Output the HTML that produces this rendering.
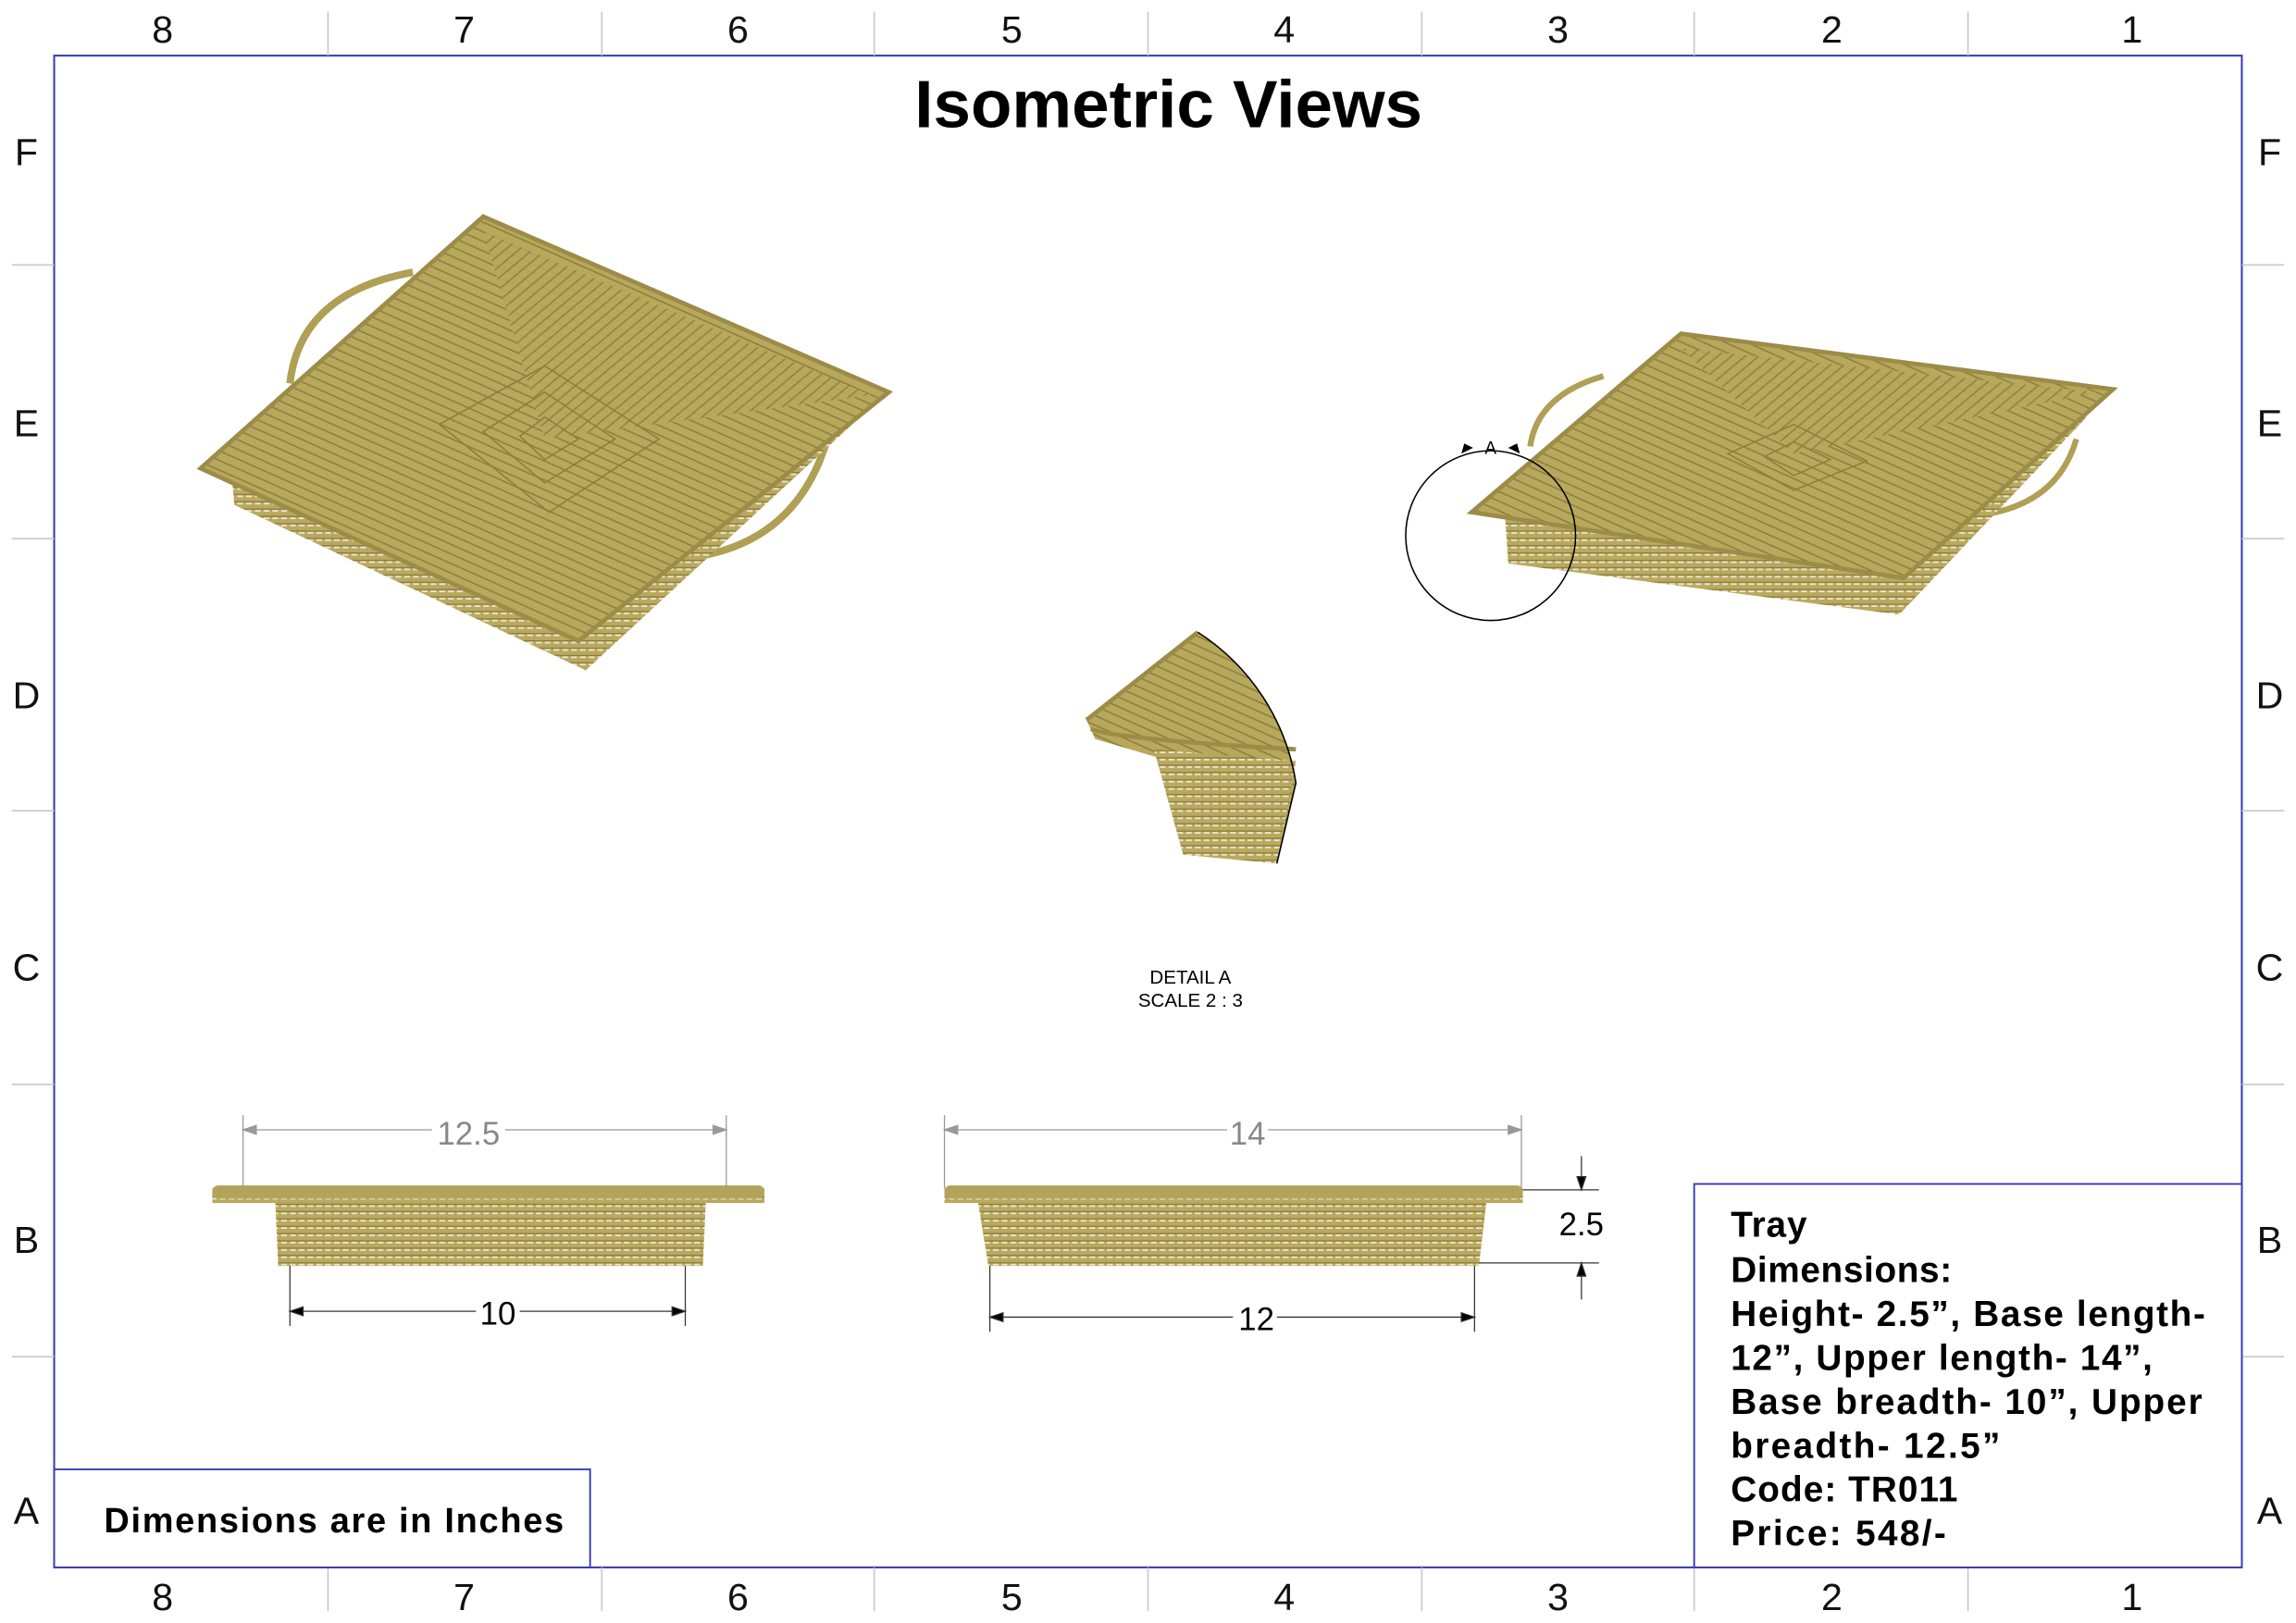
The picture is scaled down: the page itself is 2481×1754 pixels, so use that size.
<!DOCTYPE html>
<html><head><meta charset="utf-8"><style>
html,body{margin:0;padding:0;background:#fff;}
svg{display:block;}
text{font-family:"Liberation Sans",sans-serif;}
</style></head><body>
<svg width="2481" height="1754" viewBox="0 0 1568 1109" preserveAspectRatio="none" xmlns="http://www.w3.org/2000/svg">
<defs>
<pattern id="hs" width="6" height="5" patternUnits="userSpaceOnUse">
<rect width="6" height="5" fill="#b9a95e"/>
<rect y="3.5" width="4" height="1.2" fill="#fff" opacity="0.7"/>
<rect y="2.5" width="6" height="0.8" fill="#8a7a3a"/>
</pattern>
<pattern id="d1" width="6" height="6" patternUnits="userSpaceOnUse" patternTransform="rotate(24)">
<rect width="6" height="6" fill="#b8a85c"/>
<rect y="4" width="6" height="1" fill="#8d7e3e"/>
</pattern>
<pattern id="d2" width="6" height="6" patternUnits="userSpaceOnUse" patternTransform="rotate(-40)">
<rect width="6" height="6" fill="#b8a85c"/>
<rect y="4" width="6" height="1" fill="#8d7e3e"/>
</pattern>
</defs>
<rect x="37" y="38" width="1494" height="1033" fill="none" stroke="#3a3ab8" stroke-width="1.3"/>
<g stroke="#c8c8c8" stroke-width="1">
<line x1="224" y1="8" x2="224" y2="38"/><line x1="411" y1="8" x2="411" y2="38"/><line x1="597" y1="8" x2="597" y2="38"/><line x1="784" y1="8" x2="784" y2="38"/><line x1="971" y1="8" x2="971" y2="38"/><line x1="1157" y1="8" x2="1157" y2="38"/><line x1="1344" y1="8" x2="1344" y2="38"/>
<line x1="224" y1="1071" x2="224" y2="1101"/><line x1="411" y1="1071" x2="411" y2="1101"/><line x1="597" y1="1071" x2="597" y2="1101"/><line x1="784" y1="1071" x2="784" y2="1101"/><line x1="971" y1="1071" x2="971" y2="1101"/><line x1="1157" y1="1071" x2="1157" y2="1101"/><line x1="1344" y1="1071" x2="1344" y2="1101"/>
<line x1="8" y1="181" x2="37" y2="181"/><line x1="8" y1="368" x2="37" y2="368"/><line x1="8" y1="554" x2="37" y2="554"/><line x1="8" y1="741" x2="37" y2="741"/><line x1="8" y1="927" x2="37" y2="927"/>
<line x1="1531" y1="181" x2="1560" y2="181"/><line x1="1531" y1="368" x2="1560" y2="368"/><line x1="1531" y1="554" x2="1560" y2="554"/><line x1="1531" y1="741" x2="1560" y2="741"/><line x1="1531" y1="927" x2="1560" y2="927"/>
</g>
<g font-size="26" text-anchor="middle" fill="#111">
<text x="111" y="29">8</text><text x="317" y="29">7</text><text x="504" y="29">6</text><text x="691" y="29">5</text><text x="877" y="29">4</text><text x="1064" y="29">3</text><text x="1251" y="29">2</text><text x="1456" y="29">1</text>
<text x="111" y="1100">8</text><text x="317" y="1100">7</text><text x="504" y="1100">6</text><text x="691" y="1100">5</text><text x="877" y="1100">4</text><text x="1064" y="1100">3</text><text x="1251" y="1100">2</text><text x="1456" y="1100">1</text>
<text x="18" y="113">F</text><text x="18" y="298">E</text><text x="18" y="484">D</text><text x="18" y="670">C</text><text x="18" y="856">B</text><text x="18" y="1041">A</text>
<text x="1550" y="113">F</text><text x="1550" y="298">E</text><text x="1550" y="484">D</text><text x="1550" y="670">C</text><text x="1550" y="856">B</text><text x="1550" y="1041">A</text>
</g>
<text x="798" y="87" font-size="46" font-weight="bold" text-anchor="middle" fill="#000">Isometric Views</text>

<!-- iso tray 1 -->
<path d="M198,262 Q205,200 282,186" fill="none" stroke="#b0a055" stroke-width="5"/>
<path d="M478,380 Q545,368 565,300" fill="none" stroke="#b0a055" stroke-width="5"/>
<polygon points="158,322 160,345 400,458 582,290" fill="url(#hs)"/>
<polygon points="137,320 330,148 607,268 395,438" fill="url(#d1)"/>
<polygon points="330,158 595,270 372,300" fill="url(#d2)" opacity="0.9"/>
<g fill="none" stroke="#8d7e3e" stroke-width="1">
<polygon points="300,290 372,250 450,300 375,350"/><polygon points="330,295 372,268 420,300 372,330"/><polygon points="355,298 372,285 395,300 372,314"/>
</g>
<polygon points="137,320 330,148 607,268 395,438" fill="none" stroke="#9c8c48" stroke-width="3"/>

<!-- iso tray 2 -->
<path d="M1045,305 Q1050,270 1095,257" fill="none" stroke="#b0a055" stroke-width="4"/>
<path d="M1352,352 Q1405,345 1418,300" fill="none" stroke="#b0a055" stroke-width="4"/>
<polygon points="1028,355 1030,385 1297,420 1425,285" fill="url(#hs)"/>
<polygon points="1005,350 1148,228 1443,266 1300,395" fill="url(#d1)"/>
<polygon points="1148,238 1432,268 1225,310" fill="url(#d2)" opacity="0.9"/>
<g fill="none" stroke="#8d7e3e" stroke-width="1">
<polygon points="1180,310 1225,290 1275,315 1225,335"/><polygon points="1205,312 1225,302 1250,314 1225,325"/>
</g>
<polygon points="1005,350 1148,228 1443,266 1300,395" fill="none" stroke="#9c8c48" stroke-width="3"/>
<circle cx="1018" cy="366" r="58" fill="none" stroke="#000" stroke-width="1"/>
<text x="1018" y="310" font-size="12" text-anchor="middle">A</text>
<path d="M998,310 L1006,306 L1000,303 Z M1038,310 L1030,306 L1036,303 Z" fill="#000"/>

<!-- detail A -->
<path d="M742,492 L818,432 A150 150 0 0 1 885,535 L872,590 L808,584 L792,518 L748,505 Z" fill="url(#d1)"/>
<path d="M788,512 L885,520 L872,590 L808,584 Z" fill="url(#hs)"/>
<path d="M742,492 L818,432 M745,498 Q760,505 885,512" fill="none" stroke="#9c8c48" stroke-width="3"/>
<path d="M818,432 A150 150 0 0 1 885,535 L872,590" fill="none" stroke="#000" stroke-width="1"/>
<text x="813" y="672" font-size="13" text-anchor="middle">DETAIL A</text>
<text x="813" y="688" font-size="13" text-anchor="middle">SCALE 2 : 3</text>

<!-- side view 1 -->
<polygon points="145,812 522,812 522,822 482,822 480,865 190,865 188,822 145,822" fill="url(#hs)"/>
<rect x="145" y="810" width="377" height="9" rx="4" fill="#b3a35a"/>
<g stroke="#999" stroke-width="0.8" fill="#999">
<line x1="166" y1="762" x2="166" y2="812"/><line x1="496" y1="762" x2="496" y2="812"/>
<line x1="166" y1="772" x2="295" y2="772"/><line x1="345" y1="772" x2="496" y2="772"/>
<path d="M166,772 l9,-3 v6 Z M496,772 l-9,-3 v6 Z"/>
</g>
<text x="320" y="782" font-size="22" fill="#888" text-anchor="middle">12.5</text>
<g stroke="#333" stroke-width="0.8" fill="#000">
<line x1="198" y1="865" x2="198" y2="906"/><line x1="468" y1="865" x2="468" y2="906"/>
<line x1="198" y1="896" x2="325" y2="896"/><line x1="355" y1="896" x2="468" y2="896"/>
<path d="M198,896 l9,-3 v6 Z M468,896 l-9,-3 v6 Z"/>
</g>
<text x="340" y="905" font-size="22" text-anchor="middle">10</text>

<!-- side view 2 -->
<polygon points="645,812 1040,812 1040,822 1015,822 1010,865 675,865 668,822 645,822" fill="url(#hs)"/>
<rect x="645" y="810" width="395" height="9" rx="4" fill="#b3a35a"/>
<g stroke="#999" stroke-width="0.8" fill="#999">
<line x1="645" y1="762" x2="645" y2="812"/><line x1="1039" y1="762" x2="1039" y2="812"/>
<line x1="645" y1="772" x2="838" y2="772"/><line x1="866" y1="772" x2="1039" y2="772"/>
<path d="M645,772 l9,-3 v6 Z M1039,772 l-9,-3 v6 Z"/>
</g>
<text x="852" y="782" font-size="22" fill="#888" text-anchor="middle">14</text>
<g stroke="#333" stroke-width="0.8" fill="#000">
<line x1="676" y1="865" x2="676" y2="910"/><line x1="1007" y1="865" x2="1007" y2="910"/>
<line x1="676" y1="900" x2="842" y2="900"/><line x1="872" y1="900" x2="1007" y2="900"/>
<path d="M676,900 l9,-3 v6 Z M1007,900 l-9,-3 v6 Z"/>
<line x1="1040" y1="813" x2="1092" y2="813"/><line x1="1010" y1="863" x2="1092" y2="863"/>
<line x1="1080" y1="790" x2="1080" y2="813"/><line x1="1080" y1="863" x2="1080" y2="888"/>
<path d="M1080,813 l-3,-9 h6 Z M1080,863 l-3,9 h6 Z"/>
</g>
<text x="858" y="909" font-size="22" text-anchor="middle">12</text>
<text x="1080" y="844" font-size="22" text-anchor="middle">2.5</text>

<!-- info box -->
<rect x="1157" y="809" width="374" height="262" fill="#fff" stroke="#3a3ab8" stroke-width="1.2"/>
<g font-size="24.5" font-weight="bold" fill="#000">
<text x="1182" y="845" textLength="52">Tray</text>
<text x="1182" y="876" textLength="151">Dimensions:</text>
<text x="1182" y="906" textLength="324">Height- 2.5”, Base length-</text>
<text x="1182" y="936" textLength="288">12”, Upper length- 14”,</text>
<text x="1182" y="966" textLength="322">Base breadth- 10”, Upper</text>
<text x="1182" y="996" textLength="184">breadth- 12.5”</text>
<text x="1182" y="1026" textLength="155">Code: TR011</text>
<text x="1182" y="1056" textLength="147">Price: 548/-</text>
</g>
<rect x="37" y="1004" width="366" height="67" fill="#fff" stroke="#3a3ab8" stroke-width="1.2"/>
<text x="71" y="1047" font-size="24" font-weight="bold" textLength="314">Dimensions are in Inches</text>
</svg>
</body></html>
